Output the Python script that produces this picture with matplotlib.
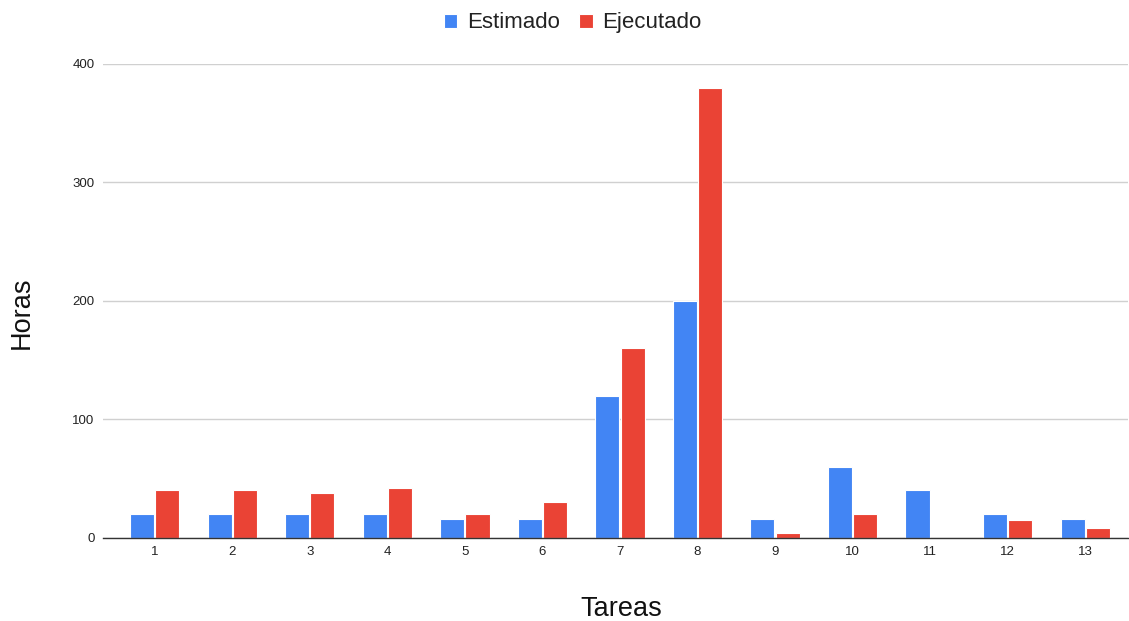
import numpy as np
import matplotlib
matplotlib.use("Agg")
import matplotlib.pyplot as plt

plt.rcParams['font.family'] = ['Liberation Sans', 'DejaVu Sans']

tareas = ['1', '2', '3', '4', '5', '6', '7', '8', '9', '10', '11', '12', '13']
estimado = [20, 20, 20, 20, 16, 16, 120, 200, 16, 60, 40, 20, 16]
ejecutado = [40, 40, 38, 42, 20, 30, 160, 380, 4, 20, 0, 15, 8]

BLUE = '#4285F4'
RED = '#EA4335'

fig = plt.figure(figsize=(11.29, 6.21), dpi=100)
ax = fig.add_axes([0.091, 0.134, 0.908, 0.763])

x = np.arange(1, len(tareas) + 1)
w = 0.31
ax.bar(x - 0.163, estimado, width=w, color=BLUE, edgecolor='white', linewidth=0.8,
       label='Estimado', zorder=3)
ax.bar(x + 0.163, ejecutado, width=w, color=RED, edgecolor='white', linewidth=0.8,
       label='Ejecutado', zorder=3)

ax.set_xlim(0.33, 13.55)
ax.set_ylim(0, 400)
ax.set_yticks([0, 100, 200, 300, 400])
ax.set_xticks(x)
ax.set_xticklabels(tareas)
ax.tick_params(axis='both', length=0, labelsize=9.5, colors='#222222')
ax.tick_params(axis='y', pad=6)
ax.tick_params(axis='x', pad=6)

ax.grid(axis='y', color='#d0d0d0', linewidth=1, zorder=0)
for s in ['top', 'right', 'left']:
    ax.spines[s].set_visible(False)
ax.spines['bottom'].set_color('#333333')
ax.spines['bottom'].set_linewidth(1)
ax.spines['bottom'].set_zorder(4)

fig.text(0.019, 0.497, 'Horas', rotation=90, ha='center', va='center', fontsize=19.5, color='#111111')
fig.text(0.55, 0.019, 'Tareas', ha='center', va='center', fontsize=19.5, color='#111111')

fig.legend(loc='center', bbox_to_anchor=(0.5075, 0.963), ncol=2, frameon=False,
           fontsize=16, handlelength=0.6, handleheight=0.6, handletextpad=0.45,
           columnspacing=0.85, labelcolor='#222222')

fig.savefig('out.png', dpi=100, facecolor='white')
